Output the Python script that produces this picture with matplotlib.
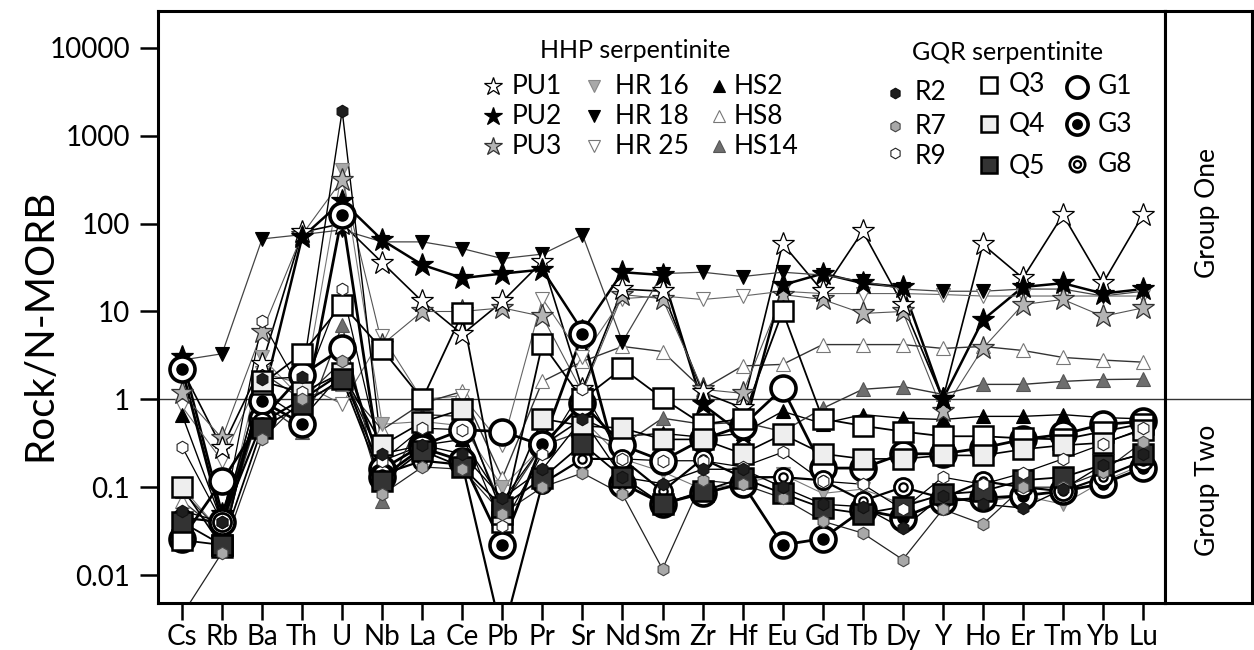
import matplotlib
matplotlib.use("Agg")
import matplotlib.pyplot as plt
from matplotlib.lines import Line2D
import numpy as np

plt.rcParams['font.family'] = ['Lato', 'DejaVu Sans']

# Element order of the spider diagram
elements = ["Cs", "Rb", "Ba", "Th", "U", "Nb", "La", "Ce", "Pb", "Pr", "Sr", "Nd", "Sm",
            "Zr", "Hf", "Eu", "Gd", "Tb", "Dy", "Y", "Ho", "Er", "Tm", "Yb", "Lu"]

# HHP serpentinite, normalised to N-MORB
PU1 = [2.2, 0.28, 2.5, 80, 100, 36, 13, 5.5, 13, 37, 1.3, 18, 17, 1.2, 0.8, 59, 17, 82, 12, 1.0, 58, 24, 126, 21, 126]
PU2 = [3.0, 0.05, 0.95, 70, 180, 65, 34, 24, 27, 30, 6, 28, 26, 0.88, 0.4, 20, 27, 21, 19, 1.0, 8, 19, 21, 16, 18]
PU3 = [1.17, 0.36, 5.9, 75, 316, 4.2, 10, 10, 11, 8.8, 1.2, 15.6, 14, 1.3, 1.17, 15.6, 13.7, 9.5, 10, 0.73, 3.8, 12, 13.7, 8.8, 11]
HR16 = [0.1, 0.03, 3.0, 1.0, 410, 0.52, 0.56, 0.5, 0.1, 0.29, 0.6, 0.21, 0.15, 0.095, 0.11, 0.14, 0.085, 0.095, 0.064, 0.08, 0.068, 0.08, 0.064, 0.117, 0.18]
HR18 = [2.8, 3.3, 67, 75, 85, 62, 62, 52, 40, 45, 75, 4.5, 27, 28, 25, 28, 26, 22, 18, 17, 17, 18, 18, 15, 17]
HR25 = [0.83, 0.2, 2.0, 1.5, 0.88, 5.2, 1.0, 1.1, 0.3, 14, 3.0, 14, 15, 13.7, 15, 17, 16, 16, 16, 15.6, 15, 15, 15, 15, 15]
HS2 = [0.67, 0.04, 1.2, 0.6, 2.0, 0.2, 0.3, 0.35, 0.07, 0.3, 0.6, 0.38, 0.41, 0.37, 0.41, 0.73, 0.53, 0.67, 0.61, 0.59, 0.64, 0.64, 0.67, 0.62, 0.6]
HS8 = [0.07, 0.03, 2.0, 1.0, 1.5, 0.45, 0.9, 1.23, 0.127, 1.6, 2.7, 4.0, 3.5, 1.3, 2.4, 2.5, 4.2, 4.2, 4.2, 3.8, 4.0, 3.6, 3.0, 2.8, 2.65]
HS14 = [0.09, 0.03, 0.9, 0.43, 7.0, 0.07, 0.67, 0.64, 0.06, 0.3, 0.43, 0.3, 0.61, 0.52, 0.55, 0.43, 0.79, 1.3, 1.4, 1.14, 1.48, 1.48, 1.6, 1.68, 1.7]

# GQR serpentinite, normalised to N-MORB
R2 = [0.054, 0.04, 1.7, 1.8, 1930, 0.24, 0.3, 0.24, 0.075, 0.16, 0.6, 0.13, 0.11, 0.16, 0.16, 0.1, 0.064, 0.06, 0.034, 0.08, 0.064, 0.058, 0.095, 0.18, 0.24]
R7 = [0.0035, 0.018, 0.35, 1.0, 2.7, 0.083, 0.17, 0.16, 0.05, 0.1, 0.145, 0.083, 0.0117, 0.12, 0.108, 0.075, 0.041, 0.03, 0.015, 0.056, 0.038, 0.1, 0.1, 0.15, 0.33]
R9 = [0.29, 0.04, 7.7, 1.2, 17.8, 0.2, 0.47, 0.45, 0.036, 0.24, 1.3, 0.21, 0.2, 0.2, 0.17, 0.25, 0.117, 0.108, 0.056, 0.13, 0.108, 0.145, 0.21, 0.31, 0.47]
Q3 = [0.025, 0.022, 1.5, 3.3, 12, 3.7, 1.0, 9.5, 0.04, 4.3, 1.0, 2.25, 1.03, 0.52, 0.6, 10, 0.6, 0.5, 0.43, 0.38, 0.38, 0.36, 0.35, 0.43, 0.53]
Q4 = [0.1, 0.021, 1.6, 1.2, 2.0, 0.3, 0.55, 0.77, 0.05, 0.6, 0.5, 0.47, 0.35, 0.35, 0.24, 0.4, 0.24, 0.21, 0.21, 0.23, 0.23, 0.27, 0.3, 0.32, 0.45]
Q5 = [0.04, 0.022, 0.47, 0.88, 1.7, 0.117, 0.26, 0.17, 0.06, 0.127, 0.31, 0.13, 0.064, 0.09, 0.127, 0.085, 0.058, 0.05, 0.06, 0.083, 0.09, 0.12, 0.13, 0.18, 0.24]
G1 = [0.026, 0.117, 0.6, 1.9, 3.8, 0.16, 0.3, 0.45, 0.43, 0.3, 0.9, 0.3, 0.2, 0.35, 0.5, 1.33, 0.165, 0.165, 0.24, 0.24, 0.28, 0.35, 0.4, 0.52, 0.56]
G3 = [2.2, 0.04, 0.95, 0.53, 126, 0.13, 0.28, 0.2, 0.022, 0.31, 5.5, 0.11, 0.065, 0.085, 0.11, 0.022, 0.026, 0.055, 0.045, 0.07, 0.075, 0.08, 0.09, 0.11, 0.165]
G8 = [0.045, 0.04, 0.55, 1.0, 2.0, 0.14, 0.2, 0.18, 0.002, 0.11, 0.21, 0.21, 0.09, 0.21, 0.13, 0.13, 0.12, 0.07, 0.1, 0.075, 0.117, 0.1, 0.09, 0.13, 0.2]

W, H = 1254, 650


def fx(px):
    return px / W


def fy(py):
    return 1 - py / H


# marker / line style for each sample
styles = {
    "PU1": dict(marker="*", ms=17, mfc="white", mec="black", mew=0.9, lc="black", lw=1.2),
    "PU2": dict(marker="*", ms=17, mfc="black", mec="black", mew=0.9, lc="black", lw=1.8),
    "PU3": dict(marker="*", ms=17, mfc="#b4b4b4", mec="#333333", mew=0.9, lc="#555555", lw=0.8),
    "HR16": dict(marker="v", ms=10, mfc="#a8a8a8", mec="#888888", mew=0.8, lc="#777777", lw=0.8),
    "HR18": dict(marker="v", ms=10, mfc="black", mec="black", mew=0.8, lc="#444444", lw=0.9),
    "HR25": dict(marker="v", ms=10, mfc="white", mec="#777777", mew=0.8, lc="#666666", lw=0.8),
    "HS2": dict(marker="^", ms=10, mfc="black", mec="black", mew=0.8, lc="black", lw=1.0),
    "HS8": dict(marker="^", ms=10, mfc="white", mec="#777777", mew=0.8, lc="#333333", lw=1.0),
    "HS14": dict(marker="^", ms=10, mfc="#6e6e6e", mec="#555555", mew=0.8, lc="#333333", lw=1.0),
    "R2": dict(marker="h", ms=9, mfc="#1e1e1e", mec="#111111", mew=0.8, lc="black", lw=1.0),
    "R7": dict(marker="h", ms=9, mfc="#a8a8a8", mec="#444444", mew=0.8, lc="#222222", lw=0.9),
    "R9": dict(marker="h", ms=9, mfc="white", mec="#222222", mew=0.8, lc="black", lw=0.9),
    "Q3": dict(marker="s", ms=14, mfc="white", mec="black", mew=1.8, lc="black", lw=1.3),
    "Q4": dict(marker="s", ms=14, mfc="#eeeeee", mec="black", mew=1.8, lc="black", lw=1.2),
    "Q5": dict(marker="s", ms=14, mfc="#333333", mec="black", mew=1.8, lc="black", lw=1.3),
    "G1": dict(marker="o", ms=18, mfc="white", mec="black", mew=2.6, lc="black", lw=2.0),
    "G3": dict(marker="o", ms=18, mfc="white", mec="black", mew=2.6, lc="black", lw=2.0),
    "G8": dict(marker="o", ms=13, mfc="white", mec="black", mew=2.0, lc="black", lw=1.6),
}

series = {"PU1": PU1, "PU2": PU2, "PU3": PU3, "HR16": HR16, "HR18": HR18, "HR25": HR25,
          "HS2": HS2, "HS8": HS8, "HS14": HS14, "R2": R2, "R7": R7, "R9": R9,
          "Q3": Q3, "Q4": Q4, "Q5": Q5, "G1": G1, "G3": G3, "G8": G8}

fig = plt.figure(figsize=(W / 100, H / 100), dpi=100)
ax = fig.add_axes([fx(158), fy(603), fx(1165) - fx(158), fy(11) - fy(603)])

x = np.arange(len(elements))

# connecting lines first, then markers on top
for name, vals in series.items():
    st = styles[name]
    ax.plot(x, vals, "-", color=st["lc"], lw=st["lw"], zorder=2, solid_joinstyle="miter")

draw_order = ["HS8", "HS14", "HR25", "HR16", "HR18", "HS2", "PU3", "PU1", "PU2",
              "G1", "G3", "G8", "Q3", "Q4", "Q5", "R9", "R7", "R2"]
for name in draw_order:
    st = styles[name]
    ax.plot(x, series[name], linestyle="none", marker=st["marker"], ms=st["ms"],
            mfc=st["mfc"], mec=st["mec"], mew=st["mew"], zorder=3)
    if name == "G3":
        ax.plot(x, series[name], linestyle="none", marker="o", ms=8, mfc="black",
                mec="black", zorder=3)
    if name == "G8":
        ax.plot(x, series[name], linestyle="none", marker="o", ms=6, mfc="white",
                mec="black", mew=1.6, zorder=3)

ax.set_yscale("log")
ax.set_ylim(10 ** (-2 - 28 / 88), 10 ** (4 + 37 / 88))
step = (1143 - 182) / 24
ax.set_xlim((158 - 182) / step, (1165 - 182) / step)

yt = [0.01, 0.1, 1, 10, 100, 1000, 10000]
ax.set_yticks(yt)
ax.set_yticklabels(["0.01", "0.1", "1", "10", "100", "1000", "10000"])
ax.yaxis.set_minor_locator(matplotlib.ticker.NullLocator())
ax.set_xticks(x)
ax.set_xticklabels(elements)
ax.tick_params(axis="y", direction="out", length=13, width=1.8, labelsize=20, pad=7)
ax.tick_params(axis="x", direction="out", length=12, width=1.8, labelsize=20, pad=3)
for sp in ax.spines.values():
    sp.set_linewidth(2.2)

ax.axhline(1, color="#333333", lw=1.0, zorder=1)

fig.text(fx(40), fy(325), "Rock/N-MORB", rotation=90, fontsize=29, ha="center", va="center")

# side panel with the two group labels
side = fig.add_axes([fx(1165), fy(603), fx(1252) - fx(1165), fy(11) - fy(603)])
side.set_yscale("log")
side.set_ylim(ax.get_ylim())
side.set_xlim(0, 1)
side.set_xticks([])
side.set_yticks([])
side.yaxis.set_minor_locator(matplotlib.ticker.NullLocator())
side.axhline(1, color="#333333", lw=1.0)
for sp in side.spines.values():
    sp.set_linewidth(2.2)
fig.text(fx(1207), fy(213), "Group One", rotation=90, fontsize=19, ha="center", va="center")
fig.text(fx(1207), fy(490), "Group Two", rotation=90, fontsize=19, ha="center", va="center")


# hand-placed legend
def legend_marker(px, py, name, scale=1.0):
    st = styles[name]
    fig.add_artist(Line2D([fx(px)], [fy(py)], transform=fig.transFigure, linestyle="none",
                          marker=st["marker"], ms=st["ms"] * scale, mfc=st["mfc"],
                          mec=st["mec"], mew=st["mew"]))
    if name == "G3":
        fig.add_artist(Line2D([fx(px)], [fy(py)], transform=fig.transFigure, linestyle="none",
                              marker="o", ms=8 * scale, mfc="black", mec="black"))
    if name == "G8":
        fig.add_artist(Line2D([fx(px)], [fy(py)], transform=fig.transFigure, linestyle="none",
                              marker="o", ms=6 * scale, mfc="white", mec="black", mew=1.6))


def legend_text(px, py, s):
    fig.text(fx(px), fy(py), s, fontsize=19, ha="left", va="center")


fig.text(fx(635), fy(50), "HHP serpentinite", fontsize=18, ha="center", va="center")
fig.text(fx(1008), fy(52), "GQR serpentinite", fontsize=18, ha="center", va="center")

hhp_cols = [(["PU1", "PU2", "PU3"], 493, 512, 0.8),
            (["HR16", "HR18", "HR25"], 594, 615, 0.8),
            (["HS2", "HS8", "HS14"], 719, 734, 0.8)]
hhp_labels = {"PU1": "PU1", "PU2": "PU2", "PU3": "PU3", "HR16": "HR 16", "HR18": "HR 18",
              "HR25": "HR 25", "HS2": "HS2", "HS8": "HS8", "HS14": "HS14"}
rows_y = [86, 116, 146]
for names, mx, tx, sc in hhp_cols:
    for name, ry in zip(names, rows_y):
        legend_marker(mx, ry, name, sc)
        legend_text(tx, ry, hhp_labels[name])

gqr_cols = [(["R2", "R7", "R9"], 895, 915, [93, 126, 153], [93, 126, 156]),
            (["Q3", "Q4", "Q5"], 989, 1009, [85, 124, 165], [85, 124, 167]),
            (["G1", "G3", "G8"], 1077, 1098, [87, 124, 164], [87, 124, 164])]
for names, mx, tx, my, ty in gqr_cols:
    for name, m_y, t_y in zip(names, my, ty):
        legend_marker(mx, m_y, name, 0.85)
        legend_text(tx, t_y, name)

fig.savefig("out.png", dpi=100)
